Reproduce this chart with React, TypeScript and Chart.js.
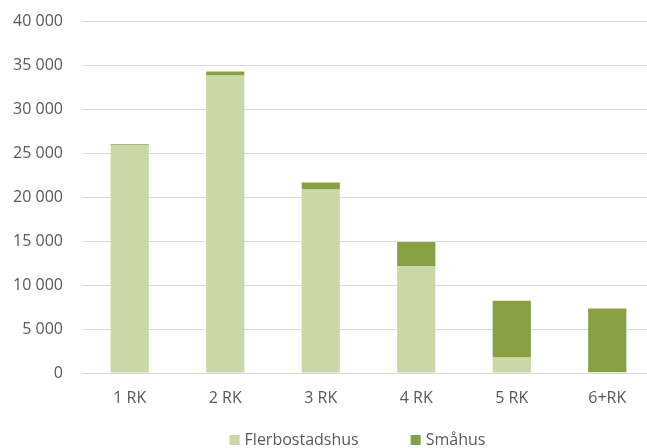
import React, { useEffect, useRef } from "react";
import { Chart, registerables } from "chart.js";

Chart.register(...registerables);

const categories = ["1 RK", "2 RK", "3 RK", "4 RK", "5 RK", "6+RK"];
const flerbostadshus = [25900, 33800, 20850, 12150, 1750, 120];
const smahus = [100, 450, 800, 2750, 6450, 7220];
const seriesNames = ["Flerbostadshus", "Småhus"];
const seriesColors = ["#C9D8A6", "#86A043"];
const yTicksMax = 40000;
const yTickStep = 5000;

const TEXT = "#595959";
const FONT = "'Open Sans', sans-serif";

const formatThousands = (v: number) =>
  String(v).replace(/\B(?=(\d{3})+(?!\d))/g, " ");

const legendPlugin = {
  id: "customLegend",
  afterDraw(chart: any) {
    const ctx = chart.ctx;
    const area = chart.chartArea;
    ctx.save();
    ctx.font = `16px ${FONT}`;
    const box = 10;
    const gapText = 5;
    const gapItems = 52;
    const items = chart.data.datasets.map((d: any) => ({
      text: d.label,
      color: d.backgroundColor,
      w: ctx.measureText(d.label).width,
    }));
    const total = items.reduce(
      (s: number, it: any, i: number) => s + box + gapText + it.w + (i > 0 ? gapItems : 0),
      0
    );
    const cx = (area.left + area.right) / 2 - 11;
    let x = cx - total / 2;
    const y = 440;
    items.forEach((it: any) => {
      ctx.fillStyle = it.color;
      ctx.fillRect(x, y - box / 2, box, box);
      ctx.fillStyle = TEXT;
      ctx.textBaseline = "middle";
      ctx.textAlign = "left";
      ctx.fillText(it.text, x + box + gapText, y);
      x += box + gapText + it.w + gapItems;
    });
    ctx.restore();
  },
};

export default function App() {
  const ref = useRef<HTMLCanvasElement | null>(null);
  useEffect(() => {
    document.body.style.margin = "0";
    if (!ref.current) return;
    const chart = new Chart(ref.current, {
      type: "bar",
      data: {
        labels: categories,
        datasets: [
          {
            label: seriesNames[0],
            data: flerbostadshus,
            backgroundColor: seriesColors[0],
            barPercentage: 0.4,
            categoryPercentage: 1,
          },
          {
            label: seriesNames[1],
            data: smahus,
            backgroundColor: seriesColors[1],
            barPercentage: 0.4,
            categoryPercentage: 1,
          },
        ],
      },
      options: {
        animation: false,
        responsive: false,
        devicePixelRatio: 1,
        layout: { padding: { top: 21, right: 5, bottom: 35, left: 0 } },
        plugins: {
          legend: { display: false },
          tooltip: { enabled: false },
        },
        scales: {
          x: {
            stacked: true,
            grid: { display: false },
            border: { display: false },
            ticks: {
              color: TEXT,
              font: { family: FONT, size: 16 },
              padding: 8,
            },
            afterFit(scale: any) {
              scale.height = 40;
            },
          },
          y: {
            stacked: true,
            min: 0,
            max: yTicksMax,
            grid: {
              color: "#D9D9D9",
              drawTicks: true,
              tickLength: 16,
              tickColor: "rgba(0,0,0,0)",
              lineWidth: 1,
            },
            border: { display: false },
            ticks: {
              stepSize: yTickStep,
              color: TEXT,
              font: { family: FONT, size: 16 },
              padding: 3,
              callback: (v: any) => formatThousands(Number(v)),
            },
            afterFit(scale: any) {
              scale.width = 82;
            },
          },
        },
      },
      plugins: [legendPlugin],
    });
    return () => chart.destroy();
  }, []);
  return (
    <div style={{ width: 647, height: 448, overflow: "hidden", background: "#fff" }}>
      <canvas ref={ref} width={660} height={448} style={{ display: "block" }} />
    </div>
  );
}
